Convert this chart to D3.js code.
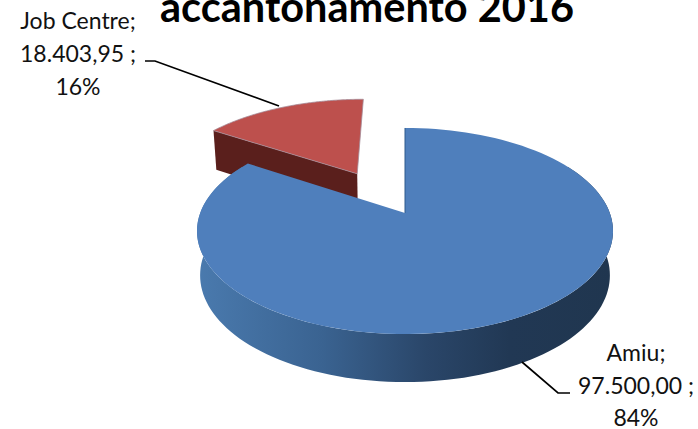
<!DOCTYPE html>
<html>
<head>
<meta charset="utf-8">
<script src="https://cdnjs.cloudflare.com/ajax/libs/d3/7.8.5/d3.min.js"></script>
<style>
html, body { margin: 0; padding: 0; background: #fff; overflow: hidden; }
text { font-family: Lato, "Open Sans", sans-serif; fill: #111; }
</style>
</head>
<body>
<div id="chart"></div>
<script>
// data
var categories = ["Amiu", "Job Centre"];
var values = [97500.00, 18403.95];
var valueLabels = ["97.500,00 ;", "18.403,95 ;"];
var percentLabels = ["84%", "16%"];
var explode = [0, 0.48];
var titleText = "accantonamento 2016";

var svgWidth = 698;
var svgHeight = 429;

// pie plane -> screen, a small perspective so the back of the pie looks shorter
var cx = 405, cy = 213;
var radiusX = 204.8, radiusY = 99.9, persp = -0.175;
var wallShrink = 0.985;
var redNudge = -4;

function project(u, v) {
  var w = 1 + persp * v;
  return [cx + radiusX * u / w, cy + radiusY * v / w];
}
// same point on the lower face of the pie
function projectBottom(u, v) {
  var p = project(u, v);
  return [cx + (p[0] - cx) * wallShrink, p[1] + 43.5 + 4.5 * v];
}

var svg = d3.select("#chart")
  .append("svg")
  .attr("width", svgWidth)
  .attr("height", svgHeight);

var defs = svg.append("defs");
var wallGrad = defs.append("linearGradient")
  .attr("id", "blueWall")
  .attr("gradientUnits", "userSpaceOnUse")
  .attr("x1", 197).attr("x2", 614).attr("y1", 0).attr("y2", 0);
wallGrad.append("stop").attr("offset", "0").attr("stop-color", "#4a7aae");
wallGrad.append("stop").attr("offset", "0.3").attr("stop-color", "#3a6391");
wallGrad.append("stop").attr("offset", "0.55").attr("stop-color", "#2a4669");
wallGrad.append("stop").attr("offset", "0.75").attr("stop-color", "#213854");
wallGrad.append("stop").attr("offset", "1").attr("stop-color", "#20364f");

var pie = d3.pie().sort(null)(values);
var line = d3.line();

// offset of a slice from the centre, along its middle angle
function sliceOffset(d, i) {
  var mid = (d.startAngle + d.endAngle) / 2;
  return [Math.sin(mid) * explode[i], -Math.cos(mid) * explode[i]];
}
function rimPoint(angle, off) {
  return [off[0] + Math.sin(angle), off[1] - Math.cos(angle)];
}
function topPath(d, i) {
  var off = sliceOffset(d, i);
  var pts = [project(off[0], off[1])];
  d3.range(0, 121).forEach(function(k) {
    var a = d.startAngle + (d.endAngle - d.startAngle) * k / 120;
    var r = rimPoint(a, off);
    pts.push(project(r[0], r[1]));
  });
  return line(pts) + "Z";
}

// Job Centre goes first, it sits behind the big slice
var red = pie[1], blue = pie[0];
var redOff = sliceOffset(red, 1);
var redRim = rimPoint(red.startAngle, redOff);
var redGroup = svg.append("g")
  .attr("transform", `translate(${redNudge}, 0)`);

redGroup.append("path")
  .attr("d", line([
    project(redRim[0], redRim[1]),
    project(redOff[0], redOff[1]),
    projectBottom(redOff[0], redOff[1]),
    projectBottom(redRim[0], redRim[1])
  ]) + "Z")
  .attr("fill", "#5a1f1c");

redGroup.append("path")
  .attr("d", topPath(red, 1))
  .attr("fill", "#bd504d")
  .attr("stroke", "#a58c98")
  .attr("stroke-width", 0.8);

// outer wall of the blue slice, only the part facing us
var wallAngles = d3.range(60, 301, 2).map(function(a) { return a * Math.PI / 180; });
var wallTop = wallAngles.map(function(a) {
  var r = rimPoint(a, [0, 0]);
  return project(r[0], r[1]);
});
var wallBottom = wallAngles.map(function(a) {
  var r = rimPoint(a, [0, 0]);
  return projectBottom(r[0], r[1]);
}).reverse();

svg.append("path")
  .attr("d", line(wallTop.concat(wallBottom)) + "Z")
  .attr("fill", "url(#blueWall)");

svg.append("path")
  .attr("d", topPath(blue, 0))
  .attr("fill", "#4f7fbc");

// dark edge where the blue slice starts
svg.append("path")
  .attr("d", line([project(0, 0), project(0, -1)]))
  .attr("stroke", "#2f5a8c")
  .attr("stroke-width", 1)
  .attr("fill", "none");

// title, the top of it is cut by the picture
svg.append("text")
  .attr("x", 367)
  .attr("y", 22)
  .attr("text-anchor", "middle")
  .style("font-size", "41.5px")
  .style("font-weight", "bold")
  .style("fill", "#000")
  .text(titleText);

// data labels
var labelPos = [
  { x: 636, y: [361, 394, 426] },
  { x: 78, y: [29, 62, 95] }
];
categories.forEach(function(c, i) {
  var lines = [c + ";", valueLabels[i], percentLabels[i]];
  lines.forEach(function(t, j) {
    svg.append("text")
      .attr("x", labelPos[i].x)
      .attr("y", labelPos[i].y[j])
      .attr("text-anchor", "middle")
      .style("font-size", "23px")
      .text(t);
  });
});

// leader lines
var leaders = [
  [[522, 362], [558, 393], [570, 393]],
  [[145, 61], [155, 61], [279, 106]]
];
leaders.forEach(function(l) {
  svg.append("path")
    .attr("d", line(l))
    .attr("fill", "none")
    .attr("stroke", "#000")
    .attr("stroke-width", 1.7);
});
</script>
</body>
</html>
